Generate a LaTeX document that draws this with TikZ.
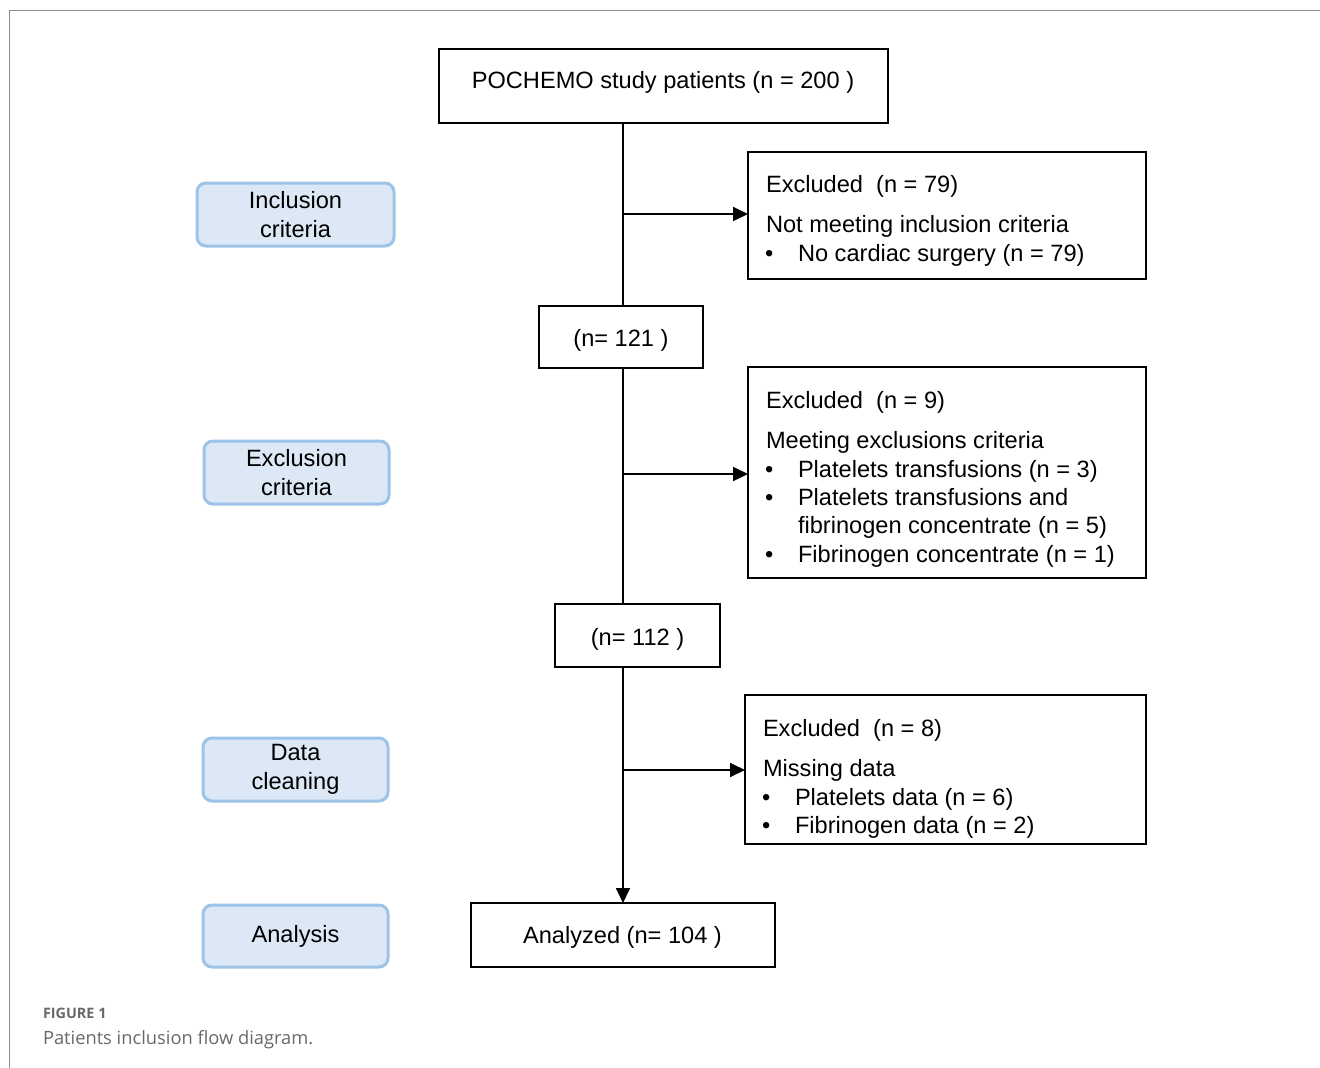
\documentclass[tikz,border=0pt]{standalone}
\usepackage{fontspec}
\setmainfont{Liberation Sans}
\newfontfamily\capfont{Open Sans}
\usetikzlibrary{arrows.meta}
\definecolor{bluefill}{RGB}{220,232,246}
\definecolor{blueline}{RGB}{157,195,230}
\definecolor{framegray}{RGB}{140,140,140}
\definecolor{capgray}{RGB}{105,105,105}
\begin{document}
\begin{tikzpicture}[x=1pt,y=-1pt,
  every node/.style={font=\fontsize{23.6}{28.5}\selectfont, inner sep=0pt, outer sep=0pt},
  flowbox/.style={draw=black, line width=2pt, fill=white},
  sidebox/.style={draw=blueline, line width=3pt, fill=bluefill, rounded corners=9pt, align=center},
  txt/.style={anchor=base west},
  ctxt/.style={anchor=base},
  ln/.style={line width=1.8pt},
  arr/.style={line width=1.8pt, -{Triangle[length=15pt,width=14pt]}}]
\useasboundingbox (0,0) rectangle (1320,1068);
\fill[white] (0,0) rectangle (1320,1068);
% frame
\draw[framegray, line width=1.6pt] (9.5,1068) -- (9.5,10.5) -- (1320,10.5);

% main flow boxes
\node[flowbox, minimum width=449pt, minimum height=74pt] (top) at (663.5,86) {};
\node[ctxt] (toptxt) at (663,88) {POCHEMO study patients (n = 200 )};

\node[flowbox, minimum width=164pt, minimum height=62pt] (n121) at (621,337) {};
\node[ctxt] (n121txt) at (621,346) {(n= 121 )};

\node[flowbox, minimum width=165pt, minimum height=63pt] (n112) at (637.5,635.5) {};
\node[ctxt] (n112txt) at (637.5,645) {(n= 112 )};

\node[flowbox, minimum width=304pt, minimum height=64pt] (anal) at (623,935) {};
\node[ctxt] (analtxt) at (622.5,943) {Analyzed (n= 104 )};

% exclusion boxes
\node[flowbox, minimum width=398pt, minimum height=127pt] (ex1) at (947,215.5) {};
\node[txt] (ex1a) at (766,192) {Excluded\ \ (n = 79)};
\node[txt] (ex1b) at (766,232) {Not meeting inclusion criteria};
\node[txt] (ex1c) at (766,261) {\makebox[32pt][l]{\hspace{-1pt}•}No cardiac surgery (n = 79)};

\node[flowbox, minimum width=398pt, minimum height=211pt] (ex2) at (947,472.5) {};
\node[txt] (ex2a) at (766,408) {Excluded\ \ (n = 9)};
\node[txt] (ex2b) at (766,448) {Meeting exclusions criteria};
\node[txt] (ex2c) at (766,477) {\makebox[32pt][l]{\hspace{-1pt}•}Platelets transfusions (n = 3)};
\node[txt] (ex2d) at (766,505) {\makebox[32pt][l]{\hspace{-1pt}•}Platelets transfusions and};
\node[txt] (ex2e) at (798,533.5) {fibrinogen concentrate (n = 5)};
\node[txt] (ex2f) at (766,562) {\makebox[32pt][l]{\hspace{-1pt}•}Fibrinogen concentrate (n = 1)};

\node[flowbox, minimum width=401pt, minimum height=149pt] (ex3) at (945.5,769.5) {};
\node[txt] (ex3a) at (763,736) {Excluded\ \ (n = 8)};
\node[txt] (ex3b) at (763,776) {Missing data};
\node[txt] (ex3c) at (763,805) {\makebox[32pt][l]{\hspace{-1pt}•}Platelets data (n = 6)};
\node[txt] (ex3d) at (763,833) {\makebox[32pt][l]{\hspace{-1pt}•}Fibrinogen data (n = 2)};

% side labels
\node[sidebox, minimum width=197pt, minimum height=63pt] (inc) at (295.5,214.5) {Inclusion\\criteria};
\node[sidebox, minimum width=185pt, minimum height=63pt] (exc) at (296.5,472.5) {Exclusion\\criteria};
\node[sidebox, minimum width=185pt, minimum height=63pt] (dat) at (295.5,769.5) {Data\\cleaning};
\node[sidebox, minimum width=185pt, minimum height=62pt] (ana) at (295.5,936) {Analysis};

% connectors
\coordinate (j1) at (623,214);
\coordinate (j2) at (623,474);
\coordinate (j3) at (623,770);
\draw[ln] (top.south -| j1) -- (n121.north -| j1);
\draw[ln] (n121.south -| j1) -- (n112.north -| j1);
\draw[arr] (n112.south -| j1) -- (anal.north -| j1);
\draw[arr] (j1) -- (ex1.west |- j1);
\draw[arr] (j2) -- (ex2.west |- j2);
\draw[arr] (j3) -- (ex3.west |- j3);

% caption
\node[txt, font=\capfont\bfseries\fontsize{14.4}{17}\selectfont, text=capgray] (figlab) at (43,1018) {FIGURE 1};
\node[txt, font=\capfont\fontsize{18.3}{22}\selectfont, text=capgray] (figcap) at (43,1044) {Patients inclusion flow diagram.};
\end{tikzpicture}
\end{document}
